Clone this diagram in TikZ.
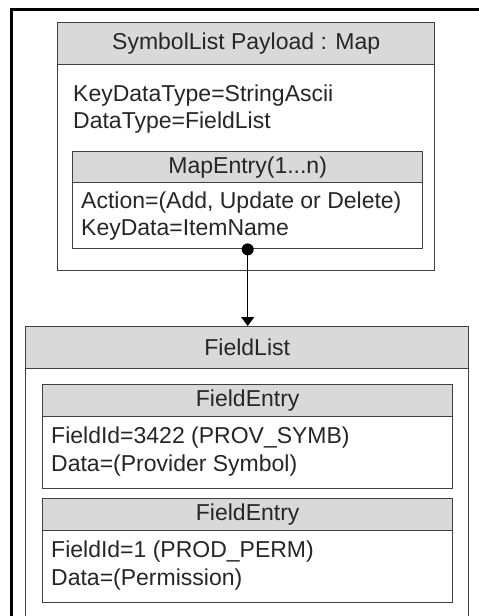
\documentclass[tikz,border=0pt]{standalone}
\usepackage{fontspec}
\setmainfont{Liberation Sans}
\usetikzlibrary{arrows.meta}
\tikzset{
  bodybox/.style={draw=black!75, line width=1.4pt, anchor=north west, inner sep=0pt},
  hdr/.style={bodybox, fill=black!15, text=black!85},
  lbl/.style={anchor=base west, inner sep=0pt, text=black!85},
  dot/.style={circle, fill=black, inner sep=0pt, minimum size=12pt},
}
\begin{document}
\begin{tikzpicture}[x=1pt, y=-1pt, font=\fontsize{23}{27}\selectfont]
  \useasboundingbox (0,0) rectangle (479,616);
  \clip (0,0) rectangle (479,616);
  \fill[white] (0,0) rectangle (479,616);
  \draw[line width=3pt] (11.5,640) -- (11.5,9.5) -- (490,9.5); % cadre

  % SymbolList Payload : Map
  \node[bodybox, minimum width=377pt, minimum height=248pt] (sl) at (57,21.5) {};
  \node[hdr, minimum width=377pt, minimum height=42pt] (slhead) at (57,21.5) {SymbolList Payload : Map};
  \node[lbl] (keytype) at (73,101) {KeyDataType=StringAscii};
  \node[lbl] (datatype) at (73,128) {DataType=FieldList};

  % MapEntry
  \node[bodybox, minimum width=350pt, minimum height=97pt] (me) at (72,151) {};
  \node[hdr, minimum width=350pt, minimum height=31pt] (mehead) at (72,151) {MapEntry(1...n)};
  \node[lbl] (action) at (81,208) {Action=(Add, Update or Delete)};
  \node[lbl] (keydata) at (81,235) {KeyData=ItemName};

  % FieldList
  \node[bodybox, minimum width=443pt, minimum height=330pt] (fl) at (25,326) {};
  \node[hdr, minimum width=443pt, minimum height=42pt] (flhead) at (25,326) {FieldList};
  \foreach \y/\n/\fid/\dat in {384/a/3422 (PROV\_SYMB)/Provider Symbol, 498/b/1 (PROD\_PERM)/Permission}{
    \node[bodybox, minimum width=410pt, minimum height=104pt] (fe\n) at (42,\y) {};
    \node[hdr, minimum width=410pt, minimum height=32pt] (fehead\n) at (42,\y) {FieldEntry};
    \node[lbl] (fid\n) at (51,\y+59.5) {FieldId=\fid};
    \node[lbl] (dat\n) at (51,\y+87.5) {Data=(\dat)};
  }

  % lien
  \node[dot] (mapdot) at (me.south) {};
  \draw[-{Triangle[length=9pt,width=13pt]}, line width=1.3pt] (mapdot.center) -- (mapdot.center |- flhead.north);
\end{tikzpicture}
\end{document}
